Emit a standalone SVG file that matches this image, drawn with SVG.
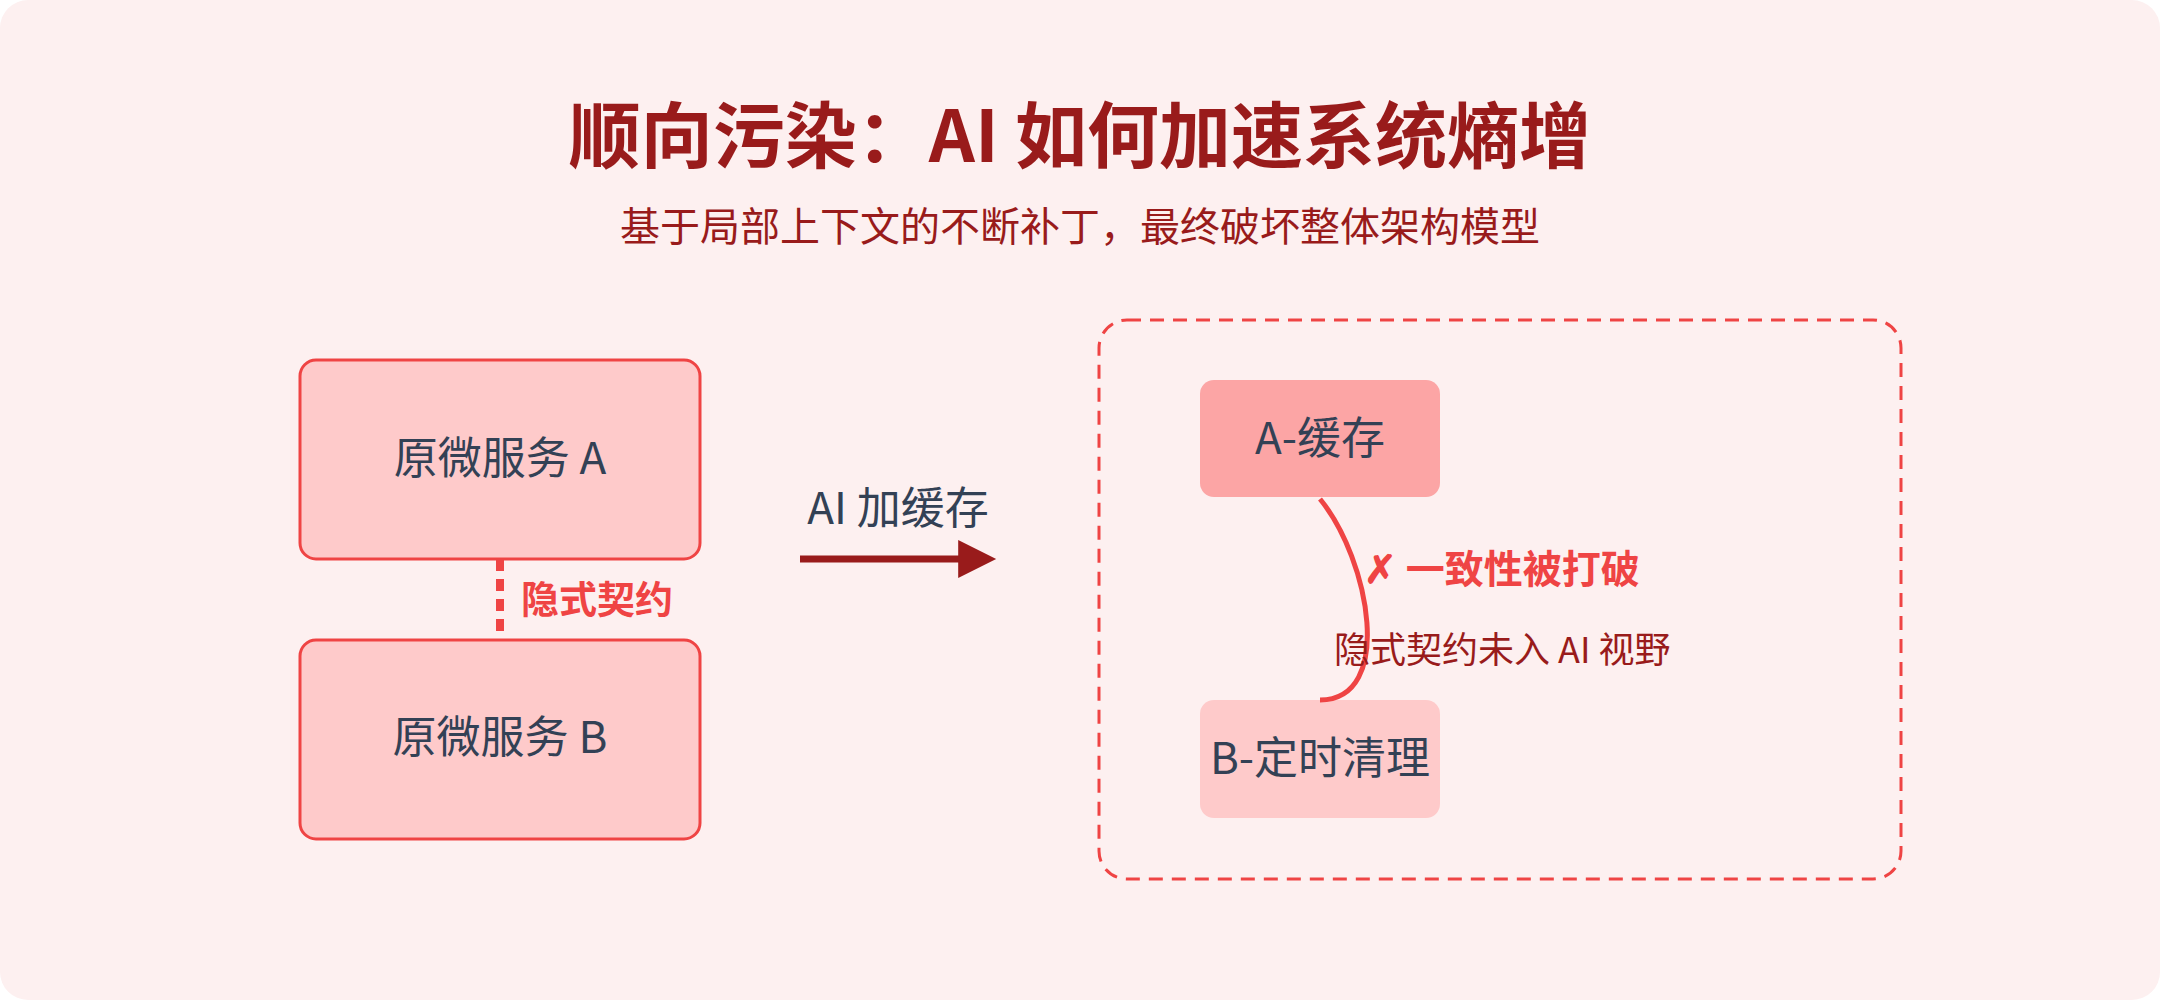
<svg xmlns="http://www.w3.org/2000/svg" width="2160" height="1000" viewBox="0 0 2160 1000">
<defs>
<style>
text{font-family:"Noto Sans CJK SC","Noto Sans",sans-serif}
.box{fill:#fecaca;stroke:#ef4444;stroke-width:3}
.lbl{font-size:44px;fill:#334155;text-anchor:middle;dominant-baseline:central}
</style>
<marker id="ah" viewBox="0 0 10 10" refX="1" refY="5" markerWidth="40" markerHeight="38" orient="auto" markerUnits="userSpaceOnUse">
<path d="M0,0 L10,5 L0,10 Z" fill="#991b1b"/>
</marker>
</defs>
<rect x="0" y="0" width="2160" height="1000" rx="28" fill="#fdf0f0"/>
<text x="1080" y="130" font-size="72" font-weight="bold" fill="#991b1b" text-anchor="middle" dominant-baseline="central">顺向污染：AI 如何加速系统熵增</text>
<text x="1080" y="224" font-size="40" fill="#991b1b" text-anchor="middle" dominant-baseline="central">基于局部上下文的不断补丁，最终破坏整体架构模型</text>
<g id="nodeA"><rect class="box" x="300" y="360" width="400" height="199" rx="16"/><text class="lbl" x="500" y="455">原微服务 A</text></g>
<g id="nodeB"><rect class="box" x="300" y="640" width="400" height="199" rx="16"/><text class="lbl" x="500" y="734">原微服务 B</text></g>
<g id="container"><rect x="1099" y="320" width="802" height="559" rx="28" fill="none" stroke="#ef4444" stroke-width="3" stroke-dasharray="14,9"/></g>
<g id="nodeAc"><rect x="1200" y="380" width="240" height="117" rx="14" fill="#fca5a5"/><text class="lbl" x="1320" y="435">A-缓存</text></g>
<g id="nodeBc"><rect x="1200" y="700" width="240" height="118" rx="14" fill="#fecaca"/><text class="lbl" x="1320" y="755">B-定时清理</text></g>
<g id="connectors">
<line x1="500" y1="559" x2="500" y2="640" stroke="#ef4444" stroke-width="8" stroke-dasharray="12,8"/>
<text x="521" y="596" font-size="38" font-weight="bold" fill="#ef4444" dominant-baseline="central">隐式契约</text>
<line x1="800" y1="559" x2="962" y2="559" stroke="#991b1b" stroke-width="7" marker-end="url(#ah)"/>
<text x="898" y="505" font-size="44" fill="#334155" text-anchor="middle" dominant-baseline="central">AI 加缓存</text>
<path d="M1320,499 C1370,560 1395,700 1320,700" fill="none" stroke="#ef4444" stroke-width="5"/>
<text x="1364" y="566" font-size="39" font-weight="bold" fill="#ef4444" dominant-baseline="central">✗ 一致性被打破</text>
<text x="1334" y="647" font-size="36" fill="#991b1b" dominant-baseline="central">隐式契约未入 AI 视野</text>
</g>
</svg>
